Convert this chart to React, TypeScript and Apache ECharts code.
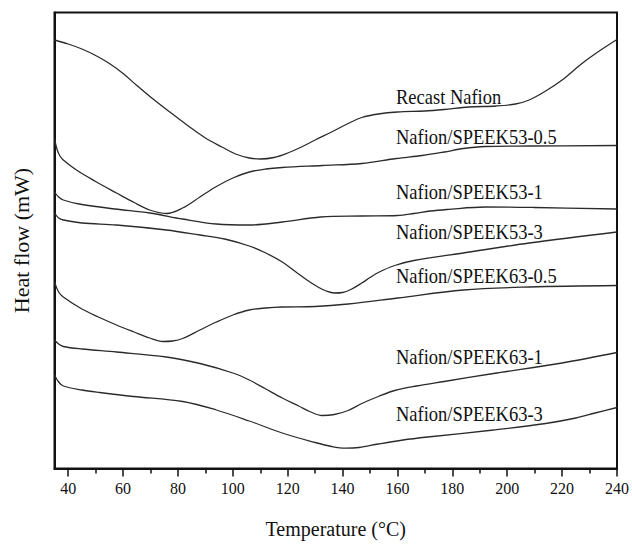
import React, { useEffect, useRef } from "react";
import * as echarts from "echarts";

const seriesNames = [
  "Recast Nafion",
  "Nafion/SPEEK53-0.5",
  "Nafion/SPEEK53-1",
  "Nafion/SPEEK53-3",
  "Nafion/SPEEK63-0.5",
  "Nafion/SPEEK63-1",
  "Nafion/SPEEK63-3",
];

const xTicks = [40, 60, 80, 100, 120, 140, 160, 180, 200, 220, 240];
const xMinorTicks = [50, 70, 90, 110, 130, 150, 170, 190, 210, 230];

// [temperature (°C), heat flow (arbitrary, offset curves)]
const recastNafion = [
  [35, 42.85], [40, 42.45], [45, 41.95], [50, 41.3], [55, 40.5], [60, 39.5],
  [65, 38.3], [70, 37.15], [77, 35.65], [84, 34.2], [90, 33.05], [96, 32.15],
  [101, 31.45], [106, 31.05], [110, 30.95], [115, 31.1], [120, 31.55], [125, 32.15],
  [130, 32.85], [136, 33.65], [142, 34.5], [147, 35.1], [153, 35.45], [160, 35.65],
  [170, 35.75], [177, 35.9], [186, 36.15], [196, 36.25], [203, 36.45], [208, 36.85],
  [214, 37.75], [220, 38.85], [227, 40.45], [233, 41.65], [240, 42.9],
];

const speek53_05 = [
  [35, 32.95], [36, 31.85], [37, 31.25], [38.2, 30.85], [43, 29.85], [50, 28.7],
  [57.6, 27.55], [64, 26.6], [69.7, 25.85], [75.8, 25.5], [81.7, 26.05], [88, 27.15],
  [94, 28.2], [100, 29.05], [106, 29.65], [112, 29.95], [118, 30.1], [132.6, 30.3],
  [147, 30.5], [159.5, 31.0], [169, 31.3], [177, 31.65], [184, 32.0], [192, 32.2],
  [208, 32.25], [240, 32.3],
];

const speek53_1 = [
  [35, 27.65], [36.5, 27.15], [38.2, 26.85], [44, 26.45], [57, 25.95], [69.7, 25.55],
  [81.7, 24.95], [94, 24.45], [106, 24.35], [118, 24.65], [132, 25.15], [147, 25.25],
  [160, 25.3], [166, 25.5], [172, 25.75], [178, 25.9], [192, 26.15], [210, 26.1],
  [240, 25.95],
];

const speek53_3 = [
  [35, 25.55], [36.5, 25.05], [38.2, 24.85], [45, 24.55], [57.6, 24.35], [75.8, 23.85],
  [88, 23.35], [97, 22.95], [106, 22.25], [112, 21.55], [118, 20.65], [123, 19.65],
  [127, 18.85], [131, 18.15], [134, 17.75], [137, 17.55], [140, 17.6], [143, 17.9],
  [147, 18.55], [150, 19.1], [153, 19.6], [159, 20.3], [166, 20.8], [184, 21.55],
  [208, 22.55], [240, 23.65],
];

const speek63_05 = [
  [35, 18.65], [36.5, 17.65], [38.2, 17.15], [45, 15.95], [51, 15.15], [57.6, 14.35],
  [64, 13.65], [69.7, 13.05], [74.5, 12.7], [78, 12.75], [81.7, 13.0], [88, 13.85],
  [94, 14.65], [100, 15.35], [106, 15.85], [112, 16.05], [118, 16.15], [130, 16.2],
  [142, 16.45], [160, 17.05], [184, 17.85], [208, 18.15], [240, 18.3],
];

const speek63_1 = [
  [35, 12.85], [36.5, 12.45], [38.2, 12.2], [45, 11.95], [57.6, 11.65], [75.8, 11.15],
  [88, 10.5], [100, 9.55], [106, 8.85], [112, 7.95], [118, 7.05], [124, 6.25],
  [128, 5.7], [132.5, 5.3], [137, 5.4], [142, 5.8], [147, 6.5], [153, 7.2],
  [159, 7.8], [167, 8.25], [177, 8.7], [195, 9.5], [220, 10.55], [240, 11.6],
];

const speek63_3 = [
  [35, 9.35], [36.5, 8.65], [38.2, 8.25], [45, 7.85], [51.5, 7.6], [63.7, 7.2],
  [81.7, 6.7], [94, 5.85], [106, 4.75], [118, 3.55], [130, 2.6], [136, 2.2],
  [141, 2.03], [146, 2.1], [153, 2.45], [162, 2.85], [171, 3.15], [195, 3.85],
  [214, 4.5], [225, 5.05], [232, 5.55], [240, 6.1],
];

const allSeries = [recastNafion, speek53_05, speek53_1, speek53_3, speek63_05, speek63_1, speek63_3];

// label layout (pixels): left x, vertical centre
const labelLeft = 396;
const labelCentres = [98, 138, 193, 233, 277, 358, 415];

const FONT = "'Liberation Serif', 'Times New Roman', serif";

export default function App() {
  const ref = useRef<HTMLDivElement>(null);

  useEffect(() => {
    document.body.style.margin = "0";
    if (!ref.current) return;
    const chart = echarts.init(ref.current, undefined, { renderer: "svg" });
    chart.setOption({
      animation: false,
      backgroundColor: "#ffffff",
      grid: {
        left: 54.5,
        right: 14,
        top: 12.5,
        bottom: 75.5,
        show: true,
        borderColor: "#111",
        borderWidth: 2,
        backgroundColor: "transparent",
      },
      xAxis: [
        {
          type: "value",
          min: 35,
          max: 240,
          position: "bottom",
          name: "Temperature (°C)",
          nameLocation: "middle",
          nameGap: 50,
          nameTextStyle: { fontFamily: FONT, fontSize: 20, color: "#111" },
          axisLine: { show: true, lineStyle: { color: "#111", width: 2 } },
          axisTick: {
            show: true,
            inside: false,
            length: 8,
            customValues: xTicks,
            lineStyle: { color: "#111", width: 1.5 },
          },
          splitLine: { show: false },
          axisLabel: {
            fontFamily: FONT,
            fontSize: 16,
            color: "#111",
            margin: 12,
            customValues: xTicks,
          },
        },
        {
          type: "value",
          min: 35,
          max: 240,
          position: "bottom",
          offset: 0,
          axisLine: { show: false },
          axisTick: {
            show: true,
            inside: false,
            length: 5,
            customValues: xMinorTicks,
            lineStyle: { color: "#111", width: 1.5 },
          },
          axisLabel: { show: false },
          splitLine: { show: false },
        },
      ],
      yAxis: {
        type: "value",
        min: 0,
        max: 45.6,
        name: "Heat flow (mW)",
        nameLocation: "middle",
        nameGap: 22,
        nameTextStyle: { fontFamily: FONT, fontSize: 22, color: "#111" },
        axisLine: { show: true, lineStyle: { color: "#111", width: 2 } },
        axisTick: { show: false },
        axisLabel: { show: false },
        splitLine: { show: false },
      },
      series: allSeries.map((d, i) => ({
        name: seriesNames[i],
        type: "line",
        xAxisIndex: 0,
        data: d,
        smooth: 0.35,
        showSymbol: false,
        lineStyle: { color: "#2b2b2b", width: 1.3 },
        z: 2,
      })),
      graphic: seriesNames.map((n, i) => ({
        type: "text",
        left: labelLeft,
        top: labelCentres[i] - 12,
        scaleY: 1.15,
        style: {
          text: n,
          fontFamily: FONT,
          fontSize: 18.5,
          fill: "#111",
        },
        z: 10,
      })),
    });
    return () => chart.dispose();
  }, []);

  return <div ref={ref} style={{ width: 632, height: 544 }} />;
}
